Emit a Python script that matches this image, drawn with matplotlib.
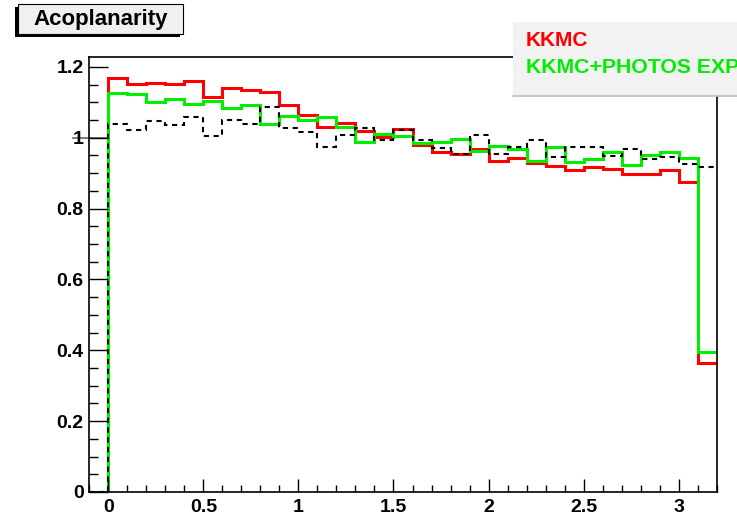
import numpy as np
import matplotlib
matplotlib.use("Agg")
import matplotlib.pyplot as plt
from matplotlib.patches import Rectangle
from matplotlib.ticker import MultipleLocator

plt.rcParams['font.family'] = ['Liberation Sans', 'DejaVu Sans']
plt.rcParams['font.weight'] = 'bold'

# acoplanarity histograms, 33 bins of 0.1 from -0.1 to 3.2
edges = np.round(np.arange(-0.1, 3.2001, 0.1), 2)

kkmc = [0.0,
        1.169, 1.151, 1.154, 1.151, 1.159, 1.116, 1.140, 1.134, 1.128, 1.092,
        1.064, 1.030, 1.041, 1.020, 1.003, 1.026, 0.979, 0.960, 0.955, 0.969,
        0.935, 0.944, 0.930, 0.920, 0.908, 0.918, 0.911, 0.897, 0.897, 0.910,
        0.876, 0.364]

kkmc_photos = [0.0,
               1.126, 1.123, 1.100, 1.109, 1.095, 1.103, 1.083, 1.093, 1.038, 1.062,
               1.049, 1.058, 1.030, 0.987, 1.012, 1.006, 0.984, 0.988, 0.997, 0.962,
               0.976, 0.969, 0.935, 0.974, 0.932, 0.940, 0.960, 0.924, 0.952, 0.960,
               0.944, 0.394]

ratio = [0.0,
         1.039, 1.023, 1.047, 1.037, 1.058, 1.006, 1.050, 1.039, 1.086, 1.027,
         1.016, 0.973, 1.009, 1.027, 0.995, 1.021, 0.995, 0.971, 0.955, 1.008,
         0.955, 0.974, 0.995, 0.945, 0.975, 0.974, 0.948, 0.967, 0.941, 0.946,
         0.927, 0.918]

W, H = 737, 520
fig = plt.figure(figsize=(W / 100, H / 100), dpi=100)


def px(x0, y0, x1, y1):
    # pixel box (top-left origin) -> figure fraction rect
    return [x0 / W, 1 - y1 / H, (x1 - x0) / W, (y1 - y0) / H]


ax = fig.add_axes(px(89.3, 57, 716.7, 492))

ax.stairs(kkmc, edges, baseline=None, color='#ff0000', lw=2.2)
ax.stairs(kkmc_photos, edges, baseline=None, color='#00ee00', lw=2.2)
ax.stairs(ratio, edges, baseline=None, color='black', lw=1.5,
          linestyle=(0, (2.5, 2.2)))

# short grey marker at y=1 left of the first bin
ax.plot([-0.185, -0.005], [1, 1], color='0.45', lw=1.3, clip_on=False, zorder=1)

ax.set_xlim(-0.1, 3.2)
ax.set_ylim(0, 1.228)

ax.xaxis.set_minor_locator(MultipleLocator(0.1))
ax.yaxis.set_minor_locator(MultipleLocator(0.05))
ax.set_xticks([0, 0.5, 1, 1.5, 2, 2.5, 3])
ax.set_xticklabels(['0', '0.5', '1', '1.5', '2', '2.5', '3'])
ax.set_yticks([0, 0.2, 0.4, 0.6, 0.8, 1.0, 1.2])
ax.set_yticklabels(['0', '0.2', '0.4', '0.6', '0.8', '1', '1.2'])

ax.tick_params(axis='x', which='major', direction='in', length=9.5, width=1,
               labelsize=14, pad=5, top=False)
ax.tick_params(axis='x', which='minor', direction='in', length=5, width=1, top=False)
ax.tick_params(axis='y', which='major', direction='in', length=13.7, width=1,
               labelsize=14, pad=4, right=False)
ax.tick_params(axis='y', which='minor', direction='in', length=6.8, width=1, right=False)
for lab in ax.get_xticklabels() + ax.get_yticklabels():
    lab.set_fontweight('bold')
for s in ax.spines.values():
    s.set_linewidth(1.2)

# title box with shadow
shadow = px(15, 7, 180, 37)
fig.add_artist(Rectangle(shadow[:2], shadow[2], shadow[3], transform=fig.transFigure,
                         facecolor='black', edgecolor='none', zorder=5))
tbox = px(18, 4, 183, 34)
fig.add_artist(Rectangle(tbox[:2], tbox[2], tbox[3], transform=fig.transFigure,
                         facecolor='#f0f0f0', edgecolor='black', lw=0.8, zorder=6))
fig.text(100.5 / W, 1 - 19.5 / H, 'Acoplanarity', ha='center', va='center',
         fontsize=16, fontweight='bold', zorder=7)

# legend pave
leg = px(513, 22, 760, 96)
fig.add_artist(Rectangle(leg[:2], leg[2], leg[3], transform=fig.transFigure,
                         facecolor='#f2f2f2', edgecolor='none', zorder=5))
fig.add_artist(plt.Line2D([513 / W, 1], [1 - 96 / H] * 2, transform=fig.transFigure,
                          color='0.75', lw=1.2, zorder=6))
fig.text(526 / W, 1 - 40.5 / H, 'KKMC', color='#ff0000', ha='left', va='center',
         fontsize=15, fontweight='bold', zorder=7)
fig.text(526 / W, 1 - 67.5 / H, 'KKMC+PHOTOS EXP', color='#00ee00', ha='left',
         va='center', fontsize=15.3, fontweight='bold', zorder=7)

fig.savefig('out.png', dpi=100)
